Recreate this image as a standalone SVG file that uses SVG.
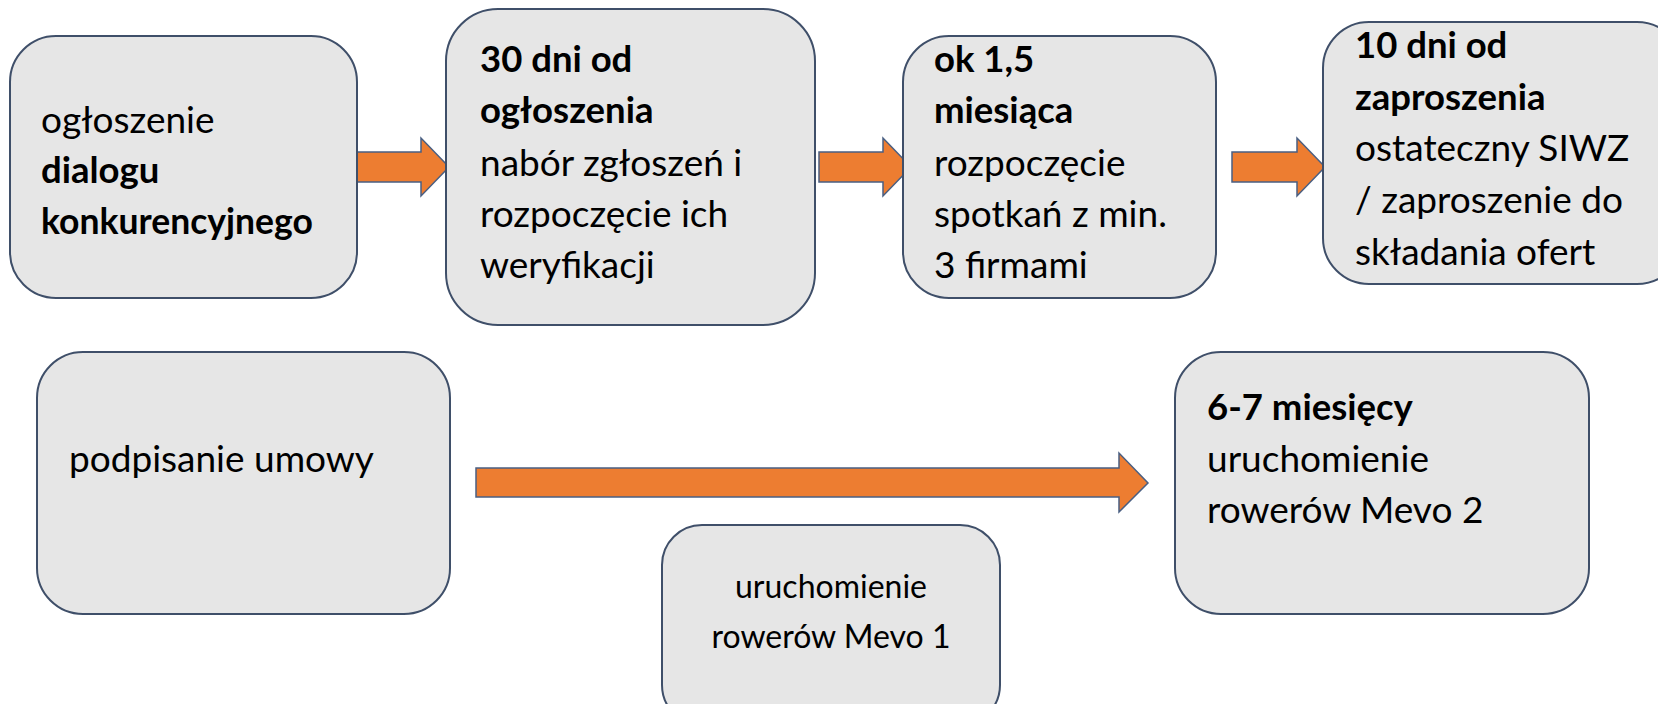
<svg xmlns="http://www.w3.org/2000/svg" width="1658" height="704" viewBox="0 0 1658 704">
<style>
.box{fill:#e6e6e6;stroke:#3f4f69;stroke-width:2}
.arr{fill:#ed7d31;stroke:#4a5f82;stroke-width:1.5}
text{font-family:Lato,"Liberation Sans",sans-serif;font-size:37px;fill:#000}
.b{font-weight:bold;font-size:36.5px}
.s{font-size:32px}
</style>
<rect width="1658" height="704" fill="#fff"/>
<g id="connectors">
<path class="arr" d="M357,152 H421 V138 L449,167 L421,196 V182 H357 Z"/>
<path class="arr" d="M819,152 H883 V138 L911,167 L883,196 V182 H819 Z"/>
<path class="arr" d="M1232,152 H1297 V138 L1325,167 L1297,196 V182 H1232 Z"/>
<path class="arr" d="M476,468 H1119 V453 L1148,483 L1119,512 V497 H476 Z"/>
</g>
<g id="n1">
<rect class="box" x="10" y="36" width="347" height="262" rx="46"/>
<text x="41" y="133">ogłoszenie</text>
<text x="41" y="183" class="b">dialogu</text>
<text x="41" y="234" class="b" style="font-size:35.5px">konkurencyjnego</text>
</g>
<g id="n2">
<rect class="box" x="446" y="9" width="369" height="316" rx="52"/>
<text x="480" y="72" class="b">30 dni od</text>
<text x="480" y="123" class="b">ogłoszenia</text>
<text x="480" y="176">nabór zgłoszeń i</text>
<text x="480" y="227">rozpoczęcie ich</text>
<text x="480" y="278">weryfikacji</text>
</g>
<g id="n3">
<rect class="box" x="903" y="36" width="313" height="262" rx="46"/>
<text x="934" y="72" class="b">ok 1,5</text>
<text x="934" y="123" class="b">miesiąca</text>
<text x="934" y="176">rozpoczęcie</text>
<text x="934" y="227">spotkań z min.</text>
<text x="934" y="278">3 firmami</text>
</g>
<g id="n4">
<rect class="box" x="1323" y="22" width="360" height="262" rx="46"/>
<text x="1355" y="58" class="b">10 dni od</text>
<text x="1355" y="110" class="b">zaproszenia</text>
<text x="1355" y="161">ostateczny SIWZ</text>
<text x="1355" y="213">/ zaproszenie do</text>
<text x="1355" y="265">składania ofert</text>
</g>
<g id="n5">
<rect class="box" x="37" y="352" width="413" height="262" rx="46"/>
<text x="69" y="472">podpisanie umowy</text>
</g>
<g id="n6">
<rect class="box" x="662" y="525" width="338" height="200" rx="40"/>
<text x="831" y="598" class="s" text-anchor="middle">uruchomienie</text>
<text x="831" y="648" class="s" text-anchor="middle">rowerów Mevo 1</text>
</g>
<g id="n7">
<rect class="box" x="1175" y="352" width="414" height="262" rx="46"/>
<text x="1207" y="420" class="b">6-7 miesięcy</text>
<text x="1207" y="472">uruchomienie</text>
<text x="1207" y="523">rowerów Mevo 2</text>
</g>
</svg>
